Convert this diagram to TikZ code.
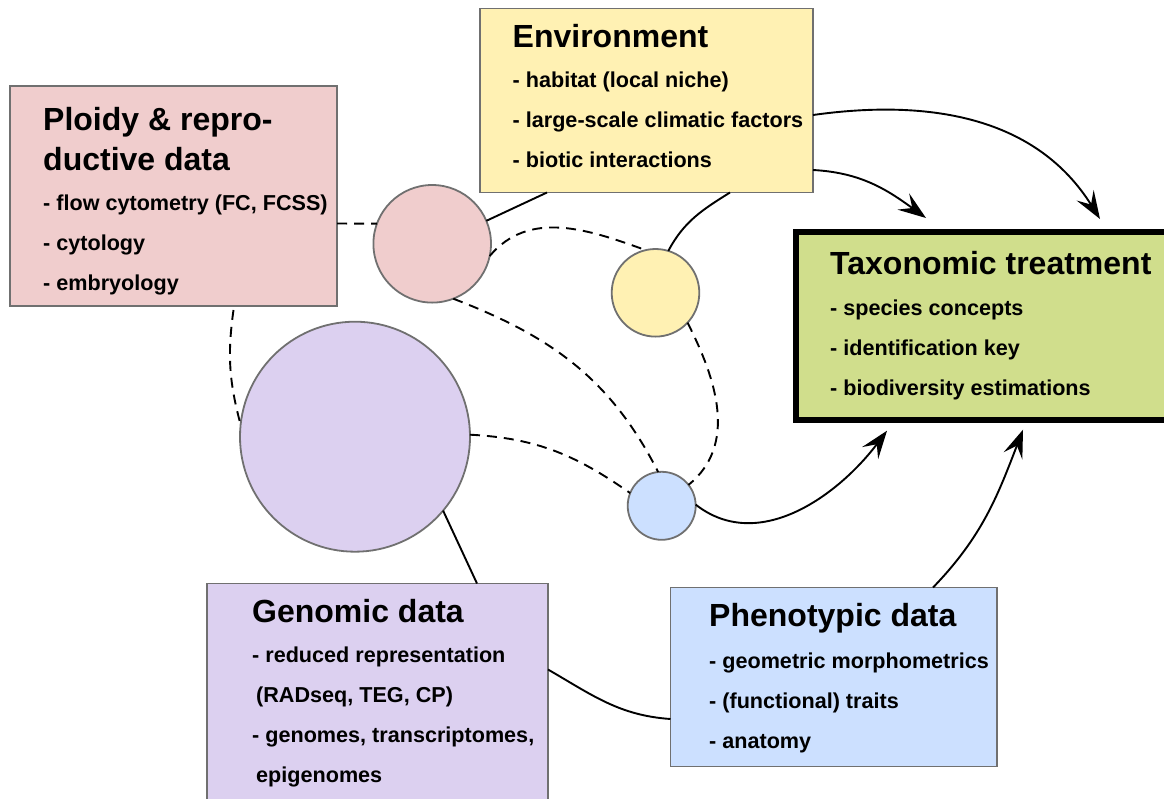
\documentclass[tikz,border=0pt]{standalone}
\usepackage{fontspec}
\setmainfont{Liberation Sans}
\usetikzlibrary{arrows.meta}
\definecolor{ploidyfill}{HTML}{F0CDCD}
\definecolor{envfill}{HTML}{FFF1B3}
\definecolor{taxonfill}{HTML}{D0DE8C}
\definecolor{genomefill}{HTML}{DCD0F0}
\definecolor{phenofill}{HTML}{CCE0FF}
\definecolor{edgegray}{HTML}{707070}
\newcommand{\boxhead}[1]{{\fontsize{32}{40}\selectfont #1}}
\begin{document}
\begin{tikzpicture}[x=1pt, y=-1pt]
\tikzset{databox/.style={shape=rectangle, draw=edgegray, line width=1.8pt, anchor=north west, inner sep=0pt, outer sep=0pt}}
\tikzset{datadot/.style={shape=circle, draw=edgegray, line width=1.8pt, inner sep=0pt, outer sep=0pt}}
\tikzset{boxtext/.style={anchor=base west, align=left, inner sep=0pt, font=\fontsize{21.6}{40}\selectfont\bfseries}}
\tikzset{link/.style={line width=1.9pt}}
\tikzset{dashlink/.style={link, dash pattern=on 10pt off 7pt}}
\tikzset{feeds/.style={link, -{Stealth[length=28pt, width=20pt, inset=11pt]}}}
\useasboundingbox (0, 0) rectangle (1164, 798);
% data sources
\node (ploidy) [databox, fill=ploidyfill,  minimum width=327pt, minimum height=220pt] at (10, 86) {};
\node (env)    [databox, fill=envfill,     minimum width=333pt, minimum height=184pt] at (480, 8.5) {};
\node (genome) [databox, fill=genomefill,  minimum width=341pt, minimum height=230pt] at (207, 583.5) {};
\node (pheno)  [databox, fill=phenofill,   minimum width=326.5pt, minimum height=179pt] at (670.5, 587.5) {};
\node (taxon)  [databox, fill=taxonfill, draw=black, line width=6pt, minimum width=400pt, minimum height=188pt] at (796, 231.7) {};
% box texts (placed by the baseline of the last line)
\node (ploidytext) [boxtext] at (43, 290) {\boxhead{Ploidy \& repro-}\\\boxhead{ductive data}\\- flow cytometry (FC, FCSS)\\- cytology\\- embryology};
\node (envtext)    [boxtext] at (512.5, 167) {\boxhead{Environment}\\- habitat (local niche)\\- large-scale climatic factors\\- biotic interactions};
\node (genometext) [boxtext] at (252, 782) {\boxhead{Genomic data}\\- reduced representation\\\hspace{4pt}(RADseq, TEG, CP)\\- genomes, transcriptomes,\\\hspace{4pt}epigenomes};
\node (phenotext)  [boxtext] at (709, 748) {\boxhead{Phenotypic data}\\[1.5pt]- geometric morphometrics\\- (functional) traits\\- anatomy};
\node (taxontext)  [boxtext] at (830, 395) {\boxhead{Taxonomic treatment}\\[1pt]- species concepts\\- identification key\\- biodiversity estimations};
% overlap circles
\node (ploidydot) [datadot, fill=ploidyfill, minimum size=117.6pt] at (432.2, 243.8) {};
\node (envdot)    [datadot, fill=envfill,    minimum size=87.6pt]  at (655.5, 292.8) {};
\node (genomedot) [datadot, fill=genomefill, minimum size=230pt]   at (355, 436.7) {};
\node (phenodot)  [datadot, fill=phenofill,  minimum size=68pt]    at (661.7, 505.8) {};
% dashed links between circles
\draw[dashlink] ([yshift=-137.5pt]ploidy.north east) -- (ploidydot.160);
\draw[dashlink] ([xshift=60pt, yshift=-4pt]ploidy.south) to[out=-98, in=105] (genomedot.174);
\draw[dashlink] (ploidydot.-12) to[out=50, in=160] (envdot.103);
\draw[dashlink] (ploidydot.-69) to[out=-21, in=117] (phenodot.96);
\draw[dashlink] (genomedot.1) to[out=-3, in=145] (phenodot.158);
\draw[dashlink] (envdot.-43) to[out=-63, in=39] (phenodot.38);
% solid links to boxes
\draw[link] (ploidydot.23) -- ([xshift=67pt]env.south west);
\draw[link] (envdot.73) to[out=62, in=-148] ([xshift=250pt]env.south west);
\draw[link] (genomedot.-40) -- ([xshift=270pt]genome.north west);
\draw[link] ([yshift=-86pt]genome.north east) to[out=-30, in=176] ([yshift=-131.5pt]pheno.north west);
% arrows into the treatment
\draw[feeds] ([yshift=-106.5pt]env.north east) to[out=8, in=122] ([xshift=304pt, yshift=12.7pt]taxon.north west);
\draw[feeds] ([yshift=-161.5pt]env.north east) to[out=-3, in=144] ([xshift=130pt, yshift=13.7pt]taxon.north west);
\draw[feeds] (phenodot.2) to[out=-38, in=-127] ([xshift=91pt, yshift=-11pt]taxon.south west);
\draw[feeds] ([xshift=262.5pt]pheno.north west) to[out=46, in=-111] ([xshift=227pt, yshift=-10pt]taxon.south west);
\end{tikzpicture}
\end{document}
